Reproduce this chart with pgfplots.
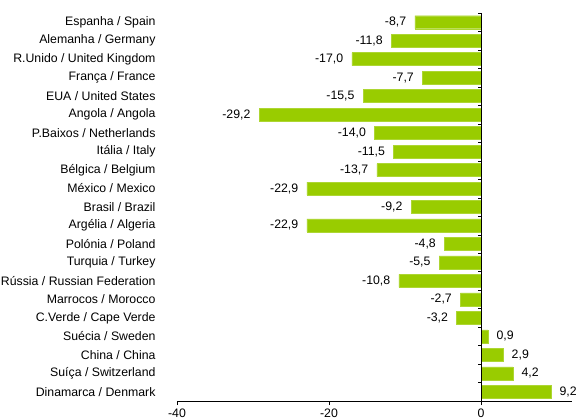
\documentclass[border=0pt]{standalone}
\usepackage{fontspec}
\setmainfont{Liberation Sans}
\usepackage{pgfplots}
\usepackage{pgfplotstable}
\pgfplotsset{compat=1.18}
\definecolor{barlime}{HTML}{99CC00}

% change in %, top to bottom
\pgfplotstableread{
idx value
1  -8.7
2  -11.8
3  -17.0
4  -7.7
5  -15.5
6  -29.2
7  -14.0
8  -11.5
9  -13.7
10 -22.9
11 -9.2
12 -22.9
13 -4.8
14 -5.5
15 -10.8
16 -2.7
17 -3.2
18 0.9
19 2.9
20 4.2
21 9.2
}\countries

\begin{document}
\begin{tikzpicture}[font=\fontsize{12.3bp}{14.8bp}\selectfont]
\begin{axis}[
  at={(177bp,18bp)}, anchor=south west,
  scale only axis,
  width=395.2bp, height=388bp,
  xbar, bar width=13bp,
  xmin=-40, xmax=12,
  ymin=0.5, ymax=21.5,
  y dir=reverse,
  axis x line*=bottom,
  axis y line*=left,
  y axis line style={draw=none},
  ytick style={draw=none},
  xtick={-40,-20,0},
  tick align=outside,
  major tick length=4bp,
  ytick={1,...,21},
  yticklabels={Espanha / Spain, Alemanha / Germany, R.Unido / United Kingdom,
    França / France, EUA / United States, Angola / Angola,
    P.Baixos / Netherlands, Itália / Italy, Bélgica / Belgium,
    México / Mexico, Brasil / Brazil, Argélia / Algeria,
    Polónia / Poland, Turquia / Turkey, Rússia / Russian Federation,
    Marrocos / Morocco, C.Verde / Cape Verde, Suécia / Sweden,
    China / China, Suíça / Switzerland, Dinamarca / Denmark},
  yticklabel style={xshift=-14bp},
  /pgf/number format/assume math mode=true,
  nodes near coords={\pgfmathprintnumber[fixed,fixed zerofill,precision=1,use comma]{\pgfplotspointmeta}},
  every node near coord/.append style={inner xsep=8.5bp},
  axis line style={black},
  tick style={black},
]
\addplot[fill=barlime, draw=barlime!80!white] table[x=value, y=idx] {\countries};
\draw[black] (axis cs:0,0.5) -- (axis cs:0,21.5);
\pgfplotsinvokeforeach{0.5,1.5,2.5,3.5,4.5,5.5,6.5,7.5,8.5,9.5,10.5,11.5,12.5,13.5,14.5,15.5,16.5,17.5,18.5,19.5,20.5,21.5}{
  \draw[black] (axis cs:0,#1) -- ([xshift=-3bp]axis cs:0,#1);
}
\end{axis}
\pgfresetboundingbox
\path[use as bounding box] (0,0) rectangle (582bp,419bp);
\end{tikzpicture}
\end{document}
